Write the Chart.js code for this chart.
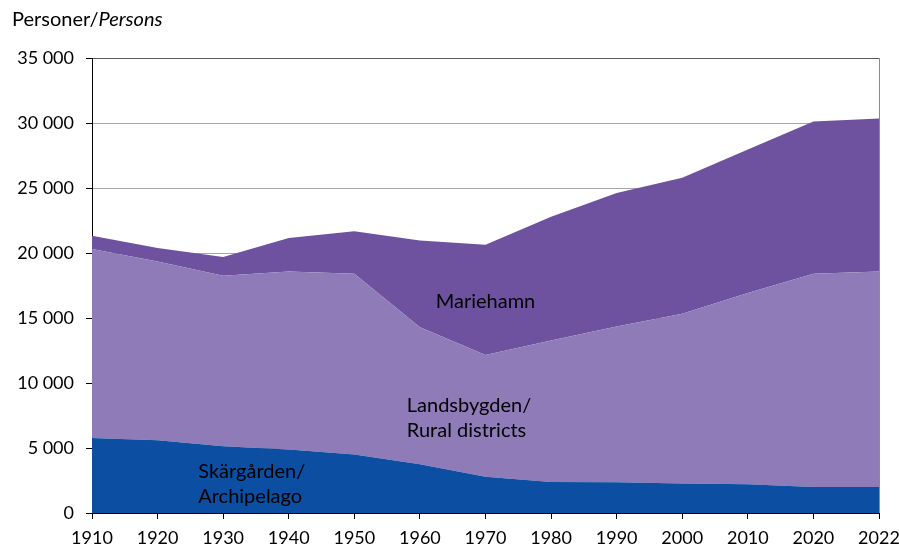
<!DOCTYPE html>
<html>
<head>
<meta charset="utf-8">
<script src="https://cdn.jsdelivr.net/npm/chart.js@4/dist/chart.umd.min.js"></script>
<style>
  html, body { margin: 0; padding: 0; background: #fff; }
  #wrap { width: 899px; height: 548px; }
</style>
</head>
<body>
<div id="wrap"><canvas id="chart" width="899" height="548"></canvas></div>
<script>
// Years on the x axis (category axis, 2022 sits one step after 2020)
const years = ["1910", "1920", "1930", "1940", "1950", "1960", "1970",
               "1980", "1990", "2000", "2010", "2020", "2022"];

// Population per region (persons)
const skargarden  = [5760, 5600, 5140, 4890, 4500, 3750, 2780, 2390, 2370, 2270, 2210, 2000, 2000];
const landsbygden = [14550, 13750, 13110, 13690, 13900, 10540, 9380, 10870, 11970, 13050, 14710, 16400, 16580];
const mariehamn   = [1020, 1040, 1440, 2570, 3270, 6680, 8480, 9520, 10280, 10460, 11050, 11720, 11770];

const yTicks = [0, 5000, 10000, 15000, 20000, 25000, 30000, 35000];

const FONT = "Lato, 'Open Sans', sans-serif";

// thousands with a space: 35 000
const fmt = v => String(v).replace(/\B(?=(\d{3})+(?!\d))/g, " ");

// title + area labels + right frame line
const extras = {
  id: "extras",
  afterDraw(chart) {
    const ctx = chart.ctx;
    const a = chart.chartArea;
    const x = chart.scales.x, y = chart.scales.y;
    ctx.save();

    // right border of plot area
    ctx.strokeStyle = "#8c8c8c";
    ctx.lineWidth = 1;
    ctx.beginPath();
    ctx.moveTo(a.right + 0.5, a.top);
    ctx.lineTo(a.right + 0.5, a.bottom);
    ctx.stroke();

    // axis title
    ctx.fillStyle = "#000";
    ctx.textBaseline = "middle";
    ctx.textAlign = "left";
    ctx.font = "20px " + FONT;
    const t1 = "Personer/";
    ctx.fillText(t1, 12, 20);
    const w1 = ctx.measureText(t1).width;
    ctx.font = "italic 20px " + FONT;
    ctx.fillText("Persons", 12 + w1, 20);

    // series labels inside the areas
    ctx.font = "20px " + FONT;
    ctx.textAlign = "center";
    ctx.fillText("Mariehamn", x.getPixelForValue(6.0), y.getPixelForValue(16250));
    ctx.textAlign = "left";
    const lx = x.getPixelForValue(4.8);
    ctx.fillText("Landsbygden/", lx, y.getPixelForValue(8250));
    ctx.fillText("Rural districts", lx, y.getPixelForValue(6350));
    const sx = x.getPixelForValue(1.62);
    ctx.fillText("Skärgården/", sx, y.getPixelForValue(3200));
    ctx.fillText("Archipelago", sx, y.getPixelForValue(1250));

    ctx.restore();
  }
};

new Chart(document.getElementById("chart"), {
  type: "line",
  data: {
    labels: years,
    datasets: [
      {
        label: "Skärgården/Archipelago",
        data: skargarden,
        backgroundColor: "#0b4ea2",
        fill: "origin"
      },
      {
        label: "Landsbygden/Rural districts",
        data: landsbygden,
        backgroundColor: "#8e7bb8",
        fill: "-1"
      },
      {
        label: "Mariehamn",
        data: mariehamn,
        backgroundColor: "#6e52a0",
        fill: "-1"
      }
    ]
  },
  options: {
    responsive: false,
    animation: false,
    elements: {
      point: { radius: 0, hoverRadius: 0 },
      line: { borderWidth: 0, tension: 0 }
    },
    layout: { padding: { left: 0, right: 20, top: 58, bottom: 0 } },
    plugins: {
      legend: { display: false },
      tooltip: { enabled: false },
      filler: { propagate: false }
    },
    scales: {
      x: {
        offset: false,
        grid: {
          drawOnChartArea: false,
          drawTicks: true,
          tickLength: 6,
          tickColor: "#000"
        },
        border: { display: true, color: "#000", width: 1 },
        ticks: {
          color: "#000",
          font: { family: FONT, size: 18 },
          padding: 8,
          maxRotation: 0,
          autoSkip: false
        },
        afterFit(scale) {
          scale.height = 35;
          scale.paddingLeft = 0;
          scale.paddingRight = 0;
        }
      },
      y: {
        stacked: true,
        min: 0,
        max: 35000,
        afterBuildTicks(scale) { scale.ticks = yTicks.map(v => ({ value: v })); },
        grid: {
          color: ctx => (ctx.tick && ctx.tick.value === 35000) ? "#5a5a5a" : "#a6a6a6",
          drawTicks: true,
          tickLength: 6,
          tickColor: "#000"
        },
        border: { display: true, color: "#000", width: 1 },
        ticks: {
          color: "#000",
          font: { family: FONT, size: 18 },
          padding: 12,
          callback: v => fmt(v)
        },
        afterFit(scale) {
          scale.width = 92;
          scale.paddingTop = 0;
          scale.paddingBottom = 0;
        }
      }
    }
  },
  plugins: [extras]
});
</script>
</body>
</html>
